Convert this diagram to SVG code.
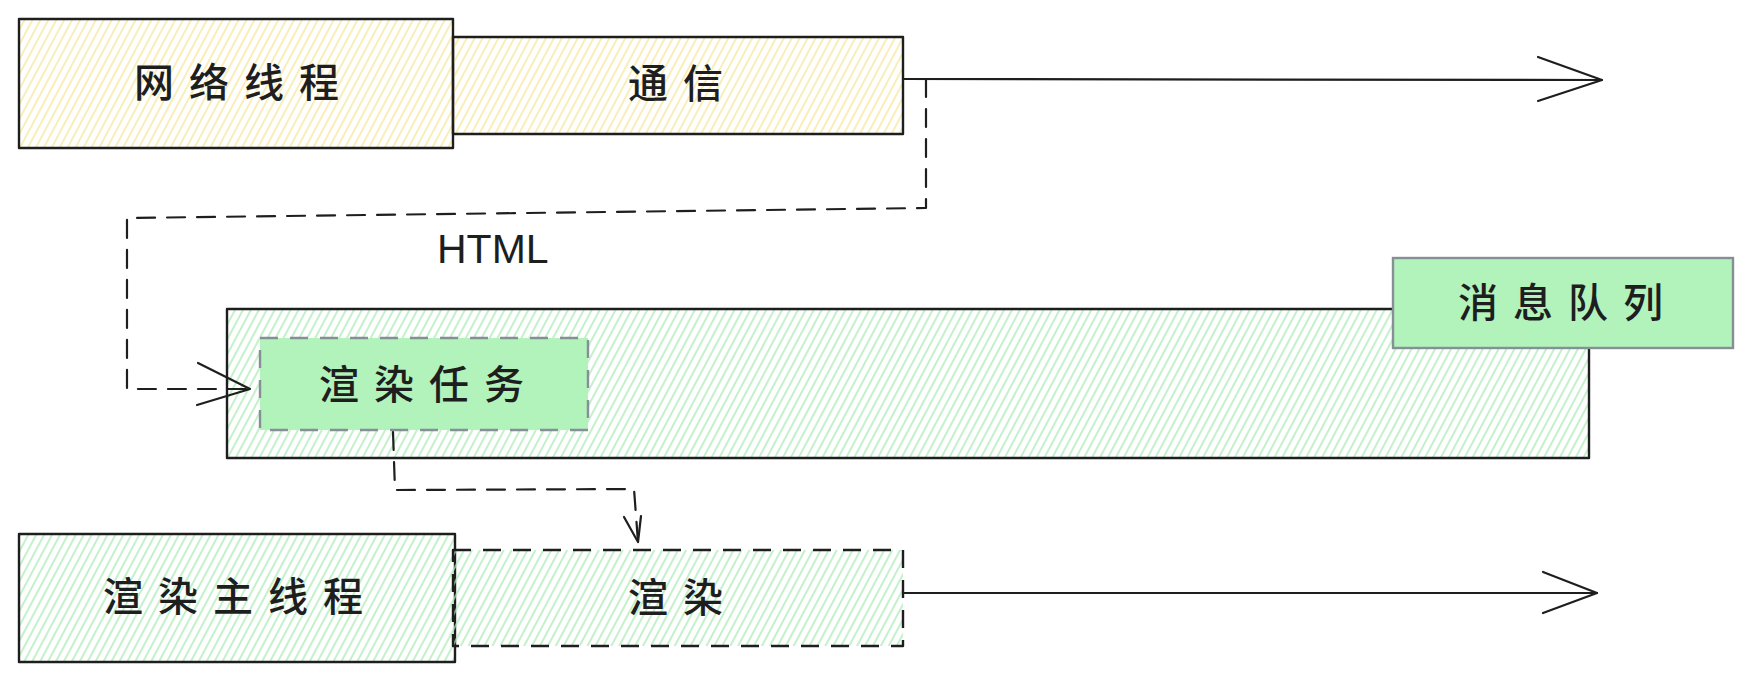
<svg xmlns="http://www.w3.org/2000/svg" width="1753" height="683" viewBox="0 0 1753 683">
<defs>
<pattern id="hy" width="7" height="7" patternUnits="userSpaceOnUse" patternTransform="rotate(28)">
<line x1="3" y1="0" x2="3" y2="7" stroke="#f7e79a" stroke-width="1.4"/>
</pattern>
<pattern id="hg" width="7" height="7" patternUnits="userSpaceOnUse" patternTransform="rotate(28)">
<line x1="3" y1="0" x2="3" y2="7" stroke="#a9ebb4" stroke-width="1.4"/>
</pattern>
<style>
.box{stroke:#1e1e1e;stroke-width:2.4;stroke-linejoin:round}
.dash{stroke-dasharray:18 12}
.gbox{fill:#b2f2bb;stroke:#868e96;stroke-width:2.4}
.cjk{font-family:"Noto Sans CJK SC","Noto Sans",sans-serif;font-size:40px;font-weight:500;fill:#1e1e1e;letter-spacing:15px}
.lbl{font-family:"Liberation Sans","DejaVu Sans",sans-serif;font-size:41px;fill:#1e1e1e}
.line{fill:none;stroke:#1e1e1e;stroke-width:2.2;stroke-linecap:round;stroke-linejoin:round}
</style>
</defs>
<rect width="1753" height="683" fill="#ffffff"/>

<g id="queue-area">
<rect class="box" x="227" y="309" width="1362" height="149" fill="url(#hg)"/>
</g>

<g id="net-thread">
<rect class="box" x="19" y="19" width="434" height="129" fill="url(#hy)"/>
<text class="cjk" x="134" y="97">网络线程</text>
</g>

<g id="comm">
<rect class="box" x="453" y="37" width="450" height="97" fill="url(#hy)"/>
<text class="cjk" x="628" y="98">通信</text>
</g>

<g id="msg-queue">
<rect class="gbox" x="1393" y="258" width="340" height="90"/>
<text class="cjk" x="1458" y="317">消息队列</text>
</g>

<g id="render-task">
<rect class="gbox dash" x="260" y="338" width="328" height="92"/>
<text class="cjk" x="319" y="399">渲染任务</text>
</g>

<g id="render-main-thread">
<rect class="box" x="19" y="534" width="436" height="128" fill="url(#hg)"/>
<text class="cjk" x="103" y="611">渲染主线程</text>
</g>

<g id="render">
<rect class="box dash" x="453" y="550" width="450" height="96" fill="url(#hg)"/>
<text class="cjk" x="628" y="612">渲染</text>
</g>

<g id="connectors">
<path class="line" d="M903,79 L1602,80"/>
<path class="line" d="M1538,57 L1602,80 L1538,101"/>
<path class="line dash" d="M926,79 L926,208 L127,218 L127,389 L250,389"/>
<path class="line" d="M198,363 L250,389 L197,405"/>
<text class="lbl" x="437" y="263">HTML</text>
<path class="line dash" d="M393,432 L395,490 L634,489 L638,542"/>
<path class="line" d="M624,517 L638,542 L641,516"/>
<path class="line" d="M903,593 L1597,593"/>
<path class="line" d="M1543,572 L1597,593 L1543,613"/>
</g>
</svg>
